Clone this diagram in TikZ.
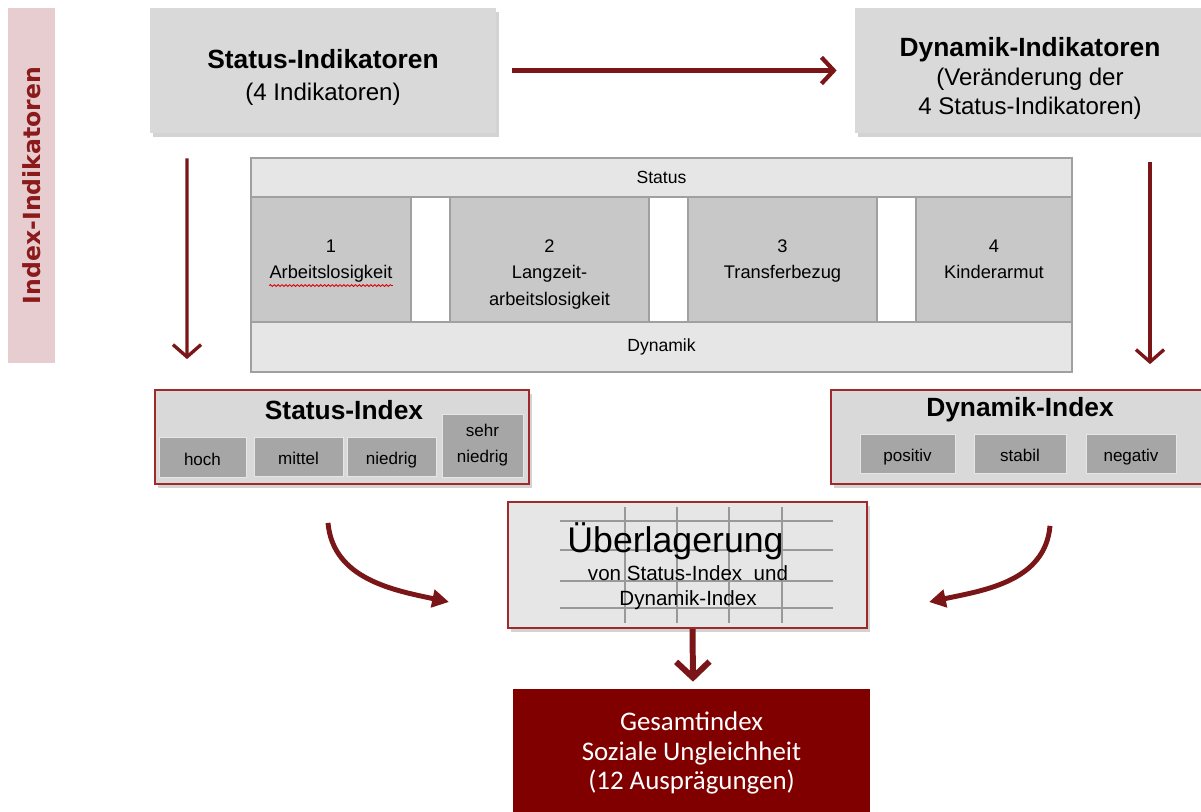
\documentclass[tikz,border=0pt]{standalone}
\usepackage{fontspec}
\setmainfont{Liberation Sans}
\newfontfamily\calfont{Carlito}
\newfontfamily\verdfont{DejaVu Sans}
\usetikzlibrary{arrows.meta, positioning, shadows, decorations.pathmorphing}

\definecolor{dunkelrot}{HTML}{7A1518}
\definecolor{rahmenrot}{HTML}{A0292B}
\definecolor{rosa}{HTML}{E8CDD0}
\definecolor{kasten}{HTML}{D9D9D9}
\definecolor{zeile}{HTML}{E6E6E6}
\definecolor{zelle}{HTML}{C8C8C8}
\definecolor{stufe}{HTML}{A6A6A6}
\definecolor{gesamtrot}{HTML}{800000}
\definecolor{linie}{HTML}{A0A0A0}
\definecolor{leistenrot}{HTML}{8B1A1A}

\tikzset{
  schatten/.style={drop shadow={opacity=0.35, shadow xshift=1.5pt, shadow yshift=-2pt}},
  leiste/.style={fill=rosa, text=leistenrot, inner sep=0pt, minimum width=7.10cm, minimum height=0.94cm,
    font=\verdfont\bfseries\fontsize{13.4}{15}\selectfont},
  kopf/.style={fill=kasten, schatten, inner sep=0pt, minimum height=2.5cm},
  kopftext/.style={align=center, inner sep=0pt, font=\fontsize{13.7}{18}\selectfont},
  zeile/.style={fill=zeile, draw=linie, line width=0.6pt, inner sep=0pt, minimum width=16.42cm,
    font=\fontsize{10}{12}\selectfont},
  zelle/.style={fill=zelle, draw=linie, line width=0.6pt, inner sep=0pt, minimum height=2.5cm},
  zelltext/.style={align=center, inner sep=0pt, font=\fontsize{10.4}{15}\selectfont},
  index/.style={fill=kasten, draw=rahmenrot, line width=1pt, schatten, inner sep=0pt, minimum height=1.88cm},
  titel/.style={inner sep=0pt, font=\bfseries\fontsize{15}{18}\selectfont},
  stufe/.style={fill=stufe, draw=zeile, line width=0.5pt, inner sep=0pt, align=center, minimum height=0.79cm,
    font=\fontsize{9.7}{14.8}\selectfont},
  einzeilig/.style={text height=9pt, text depth=0pt},
  gitter/.style={draw=gray!80, line width=0.6pt},
  pfeil/.style={draw=dunkelrot, line width=2.4pt, -{Straight Barb[length=7pt,width=15pt]}},
  pfeilab/.style={draw=dunkelrot, line width=1.9pt, -{Straight Barb[length=7pt,width=16pt]}},
  pfeildick/.style={draw=dunkelrot, line width=3.4pt, -{Straight Barb[length=9pt,width=19pt]}},
  bogen/.style={draw=dunkelrot, line width=2.8pt, -{Triangle[length=9.5pt,width=10pt]}},
}

\begin{document}
\begin{tikzpicture}
\useasboundingbox (0,0) rectangle (24.02,-16.22);

% linke Leiste
\node[leiste, rotate=90] (leiste) at (0.63,-3.71) {Index-Indikatoren};

% Indikatoren oben
\node[kopf, minimum width=6.92cm] (sind) at (6.46,-1.41) {};
\node[kopftext] (sindtext) at ([yshift=-0.14cm]sind.center) {{\bfseries\fontsize{15}{18}\selectfont Status-Indikatoren}\\(4 Indikatoren)};
\node[kopf, minimum width=7.0cm] (dind) at (20.6,-1.41) {};
\node[kopftext, font=\fontsize{13.7}{16.5}\selectfont] (dindtext) at ([yshift=-0.16cm]dind.center)
  {{\bfseries\fontsize{15}{16.5}\selectfont Dynamik-Indikatoren}\\(Ver\"anderung der\\4 Status-Indikatoren)};

% Tabelle
\node[zeile, minimum height=0.78cm] (status) at (13.23,-3.55) {Status};
\node[zelle, minimum width=3.2cm] (z1) at (6.62,-5.19) {};
\node[zelle, minimum width=3.98cm] (z2) at (10.99,-5.19) {};
\node[zelle, minimum width=3.78cm] (z3) at (15.65,-5.19) {};
\node[zelle, minimum width=3.12cm] (z4) at (19.88,-5.19) {};
\node[zeile, minimum height=1.0cm] (dynamik) at (13.23,-6.94) {Dynamik};
\draw[linie, line width=0.6pt] (status.north west) rectangle (dynamik.south east);

\node[zelltext, below=0.86cm of z1.north] (t1) {1\\Arbeitslosigkeit};
\node[zelltext, below=0.86cm of z2.north] (t2) {2\\Langzeit-\\arbeitslosigkeit};
\node[zelltext, below=0.86cm of z3.north] (t3) {3\\Transferbezug};
\node[zelltext, below=0.86cm of z4.north] (t4) {4\\Kinderarmut};
\draw[red!85!black, line width=0.5pt, decorate, decoration={snake, amplitude=0.5pt, segment length=2.2pt}]
  ([yshift=-1.5pt]t1.south west) -- ([yshift=-1.5pt]t1.south east);

% Status-Index
\node[index, minimum width=7.48cm] (sidx) at (6.84,-8.74) {};
\node[titel] (sidxtitel) at (6.88,-8.2) {Status-Index};
\node[stufe, einzeilig, minimum width=1.74cm] (hoch) at (4.05,-9.15) {hoch};
\node[stufe, einzeilig, minimum width=1.78cm] (mittel) at (5.97,-9.14) {mittel};
\node[stufe, einzeilig, minimum width=1.78cm] (niedrig) at (7.83,-9.14) {niedrig};
\node[stufe, minimum width=1.62cm, minimum height=1.26cm] (sehr) at (9.65,-8.91) {sehr\\niedrig};

% Dynamik-Index
\node[index, minimum width=7.58cm] (didx) at (20.41,-8.74) {};
\node[titel] (didxtitel) at (20.4,-8.2) {Dynamik-Index};
\node[stufe, einzeilig, minimum width=1.9cm] (positiv) at (18.15,-9.08) {positiv};
\node[stufe, einzeilig, minimum width=1.84cm] (stabil) at (20.4,-9.08) {stabil};
\node[stufe, einzeilig, minimum width=1.8cm] (negativ) at (22.62,-9.08) {negativ};

% Ueberlagerung
\node[fill=zeile, draw=rahmenrot, line width=1.2pt, schatten, minimum width=7.18cm, minimum height=2.52cm] (ueber) at (13.75,-11.3) {};
\foreach \y in {-10.42,-11.0,-11.62,-12.16}
  \draw[gitter] (11.2,\y) -- (16.66,\y);
\foreach \x in {12.5,13.54,14.58,15.64}
  \draw[gitter] (\x,-10.14) -- (\x,-12.46);
\node[align=center, inner sep=0pt, font=\fontsize{11.7}{14}\selectfont] (uebertext) at (13.76,-11.32)
  {{\fontsize{20.3}{22}\selectfont \"Uberlagerung\hspace*{0.5cm}}\\[2pt]von Status-Index\ \ und\\Dynamik-Index};

% Gesamtindex
\node[fill=gesamtrot, text=white, align=center, inner sep=0pt, minimum width=7.14cm, minimum height=2.56cm,
  font=\calfont\fontsize{15.3}{17}\selectfont] (gesamt) at (13.83,-15.06)
  {Gesamtindex\\Soziale Ungleichheit\\(12 Auspr\"agungen)};

% Pfeile
\path ([xshift=0.32cm]sind.east) edge[pfeil] ([xshift=-0.36cm]dind.west);
\path ([xshift=-2.72cm,yshift=-0.5cm]sind.south) edge[pfeilab] ([xshift=-3.1cm,yshift=0.6cm]sidx.north);
\path ([xshift=2.4cm,yshift=-0.58cm]dind.south) edge[pfeilab] ([xshift=2.59cm,yshift=0.5cm]didx.north);
\path ([xshift=-0.28cm,yshift=-0.76cm]sidx.south) edge[bogen, out=-85, in=168] ([xshift=-1.16cm,yshift=-0.74cm]ueber.west);
\path ([xshift=0.59cm,yshift=-0.82cm]didx.south) edge[bogen, out=-95, in=12] ([xshift=1.22cm,yshift=-0.74cm]ueber.east);
\path ([xshift=0.1cm]ueber.south) edge[pfeildick] ([xshift=0.03cm,yshift=0.14cm]gesamt.north);
\end{tikzpicture}
\end{document}
